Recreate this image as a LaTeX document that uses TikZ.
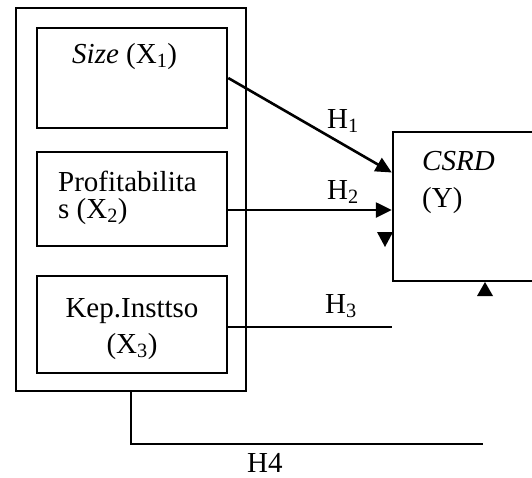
\documentclass[tikz,border=0pt]{standalone}
\usepackage{fontspec}
\setmainfont{Liberation Serif}
\usetikzlibrary{arrows.meta}

\begin{document}
\begin{tikzpicture}[x=1pt, y=-1pt,
    every node/.style={font=\fontsize{29}{36}\selectfont, inner sep=0pt},
    box/.style={draw, line width=2.5pt, minimum width=190pt},
    conn/.style={line width=2.6pt},
    tip/.style={-{Triangle[length=16pt,width=15pt]}}]
  \useasboundingbox (0,0) rectangle (532,477);
  \clip (0,0) rectangle (532,477);

  % Outer frame and variable boxes
  \node[draw, line width=1.6pt, minimum width=230pt, minimum height=383pt] (frame) at (131,199.5) {};
  \node[box, minimum height=100pt] (size) at (132,78) {};
  \node[box, minimum height=94pt] (profit) at (132,199) {};
  \node[box, minimum height=97pt] (kep) at (132,324.5) {};
  \node[box, minimum width=150pt, minimum height=149pt] (csrd) at (468,206.5) {};

  % Box texts (base = last line)
  \node[anchor=base west] (sizelbl) at (72,63) {\textit{Size} (X\textsubscript{1})};
  \node[anchor=base west, align=left, font=\fontsize{29}{27}\selectfont] (profitlbl) at (58,218) {Profitabilita\\s (X\textsubscript{2})};
  \node[anchor=base, align=center] (keplbl) at (132,353) {Kep.Insttso\\(X\textsubscript{3})};
  \node[anchor=base west, align=left, font=\fontsize{29}{37}\selectfont] (csrdlbl) at (422,207) {\textit{CSRD}\\(Y)};

  % Hypotheses
  \draw[conn, tip] (size.east) -- ([yshift=34pt]csrd.west);
  \draw[conn, tip] ([yshift=-11pt]profit.east) -- ([yshift=-11pt]profit.east -| csrd.west);
  \draw[conn] ([yshift=-2.5pt]kep.east) -- ([yshift=-2.5pt]kep.east -| csrd.west);
  \coordinate (h4end) at (483,444);
  \draw[line width=2pt] (frame.south) |- (h4end);

  \node[anchor=base west] (h1) at (327,128) {H\textsubscript{1}};
  \node[anchor=base west] (h2) at (327,199) {H\textsubscript{2}};
  \node[anchor=base west] (h3) at (325,313) {H\textsubscript{3}};
  \node[anchor=base west] (h4) at (247,472) {H4};

  % Loose arrow heads
  \fill (377,232) -- (393,232) -- (385,247) -- cycle;
  \fill (477,296) -- (493,296) -- (485,282) -- cycle;
\end{tikzpicture}
\end{document}
